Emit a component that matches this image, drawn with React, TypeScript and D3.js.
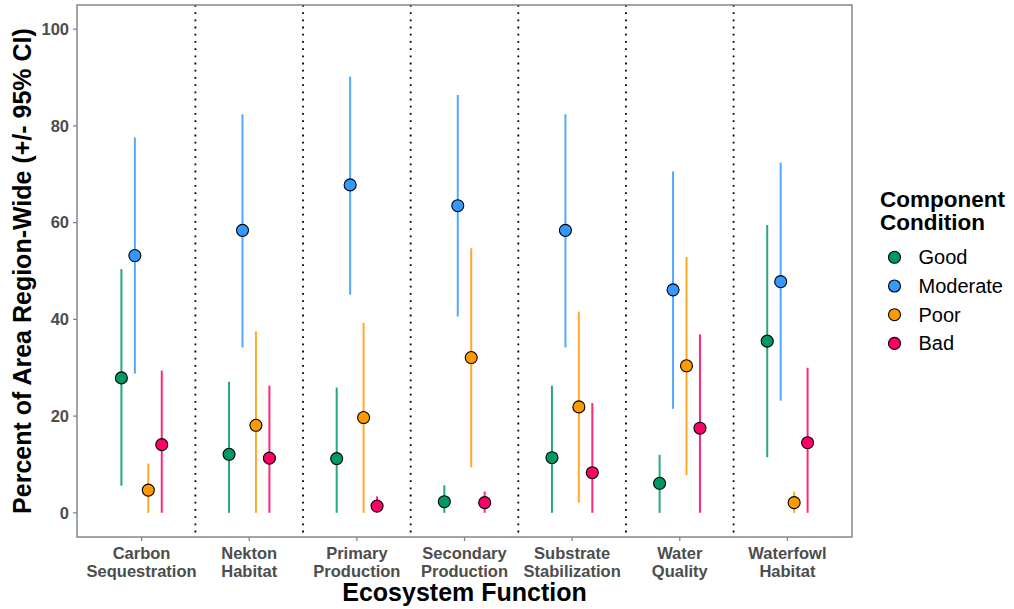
import React from "react";
import * as d3 from "d3";

// ecosystem functions (x axis), two lines each
const functions = [
  "Carbon Sequestration",
  "Nekton Habitat",
  "Primary Production",
  "Secondary Production",
  "Substrate Stabilization",
  "Water Quality",
  "Waterfowl Habitat",
];
const functionLines = [
  ["Carbon", "Sequestration"],
  ["Nekton", "Habitat"],
  ["Primary", "Production"],
  ["Secondary", "Production"],
  ["Substrate", "Stabilization"],
  ["Water", "Quality"],
  ["Waterfowl", "Habitat"],
];
const conditions = ["Good", "Moderate", "Poor", "Bad"];
const conditionColors = ["#009966", "#3399ff", "#ff9900", "#ff0066"];

// estimate, lower and upper CI per condition, in the order of functions
const goodEst = [27.9, 12.1, 11.2, 2.3, 11.4, 6.1, 35.5];
const goodLo = [5.6, 0, 0, 0, 0, 0, 11.5];
const goodHi = [50.4, 27.1, 25.9, 5.7, 26.3, 12.0, 59.5];

const moderateEst = [53.2, 58.4, 67.8, 63.5, 58.4, 46.1, 47.8];
const moderateLo = [28.8, 34.2, 45.1, 40.6, 34.2, 21.5, 23.2];
const moderateHi = [77.6, 82.4, 90.2, 86.4, 82.4, 70.6, 72.4];

const poorEst = [4.7, 18.1, 19.7, 32.1, 21.9, 30.4, 2.1];
const poorLo = [0, 0, 0, 9.4, 2.1, 7.8, 0];
const poorHi = [10.2, 37.5, 39.3, 54.7, 41.6, 52.9, 4.4];

const badEst = [14.1, 11.3, 1.4, 2.1, 8.3, 17.5, 14.5];
const badLo = [0, 0, 0, 0, 0, 0, 0];
const badHi = [29.4, 26.3, 3.4, 4.4, 22.7, 36.9, 30.0];

const yTicks = [0, 20, 40, 60, 80, 100];

const series = [
  { est: goodEst, lo: goodLo, hi: goodHi },
  { est: moderateEst, lo: moderateLo, hi: moderateHi },
  { est: poorEst, lo: poorLo, hi: poorHi },
  { est: badEst, lo: badLo, hi: badHi },
];

const width = 1014;
const height = 609;
const margin = { left: 77, right: 162, top: 5, bottom: 72 };
const font = "Liberation Sans, Arial, sans-serif";

const App = () => {
  const x0 = margin.left;
  const x1 = width - margin.right;
  const y0 = height - margin.bottom;
  const y1 = margin.top;

  // ggplot style discrete axis: 0.6 expansion on each side
  const x = d3
    .scaleLinear()
    .domain([0.4, functions.length + 0.6])
    .range([x0, x1]);
  const y = d3.scaleLinear().domain([-5, 105]).range([y0, y1]);
  const dodge = d3
    .scaleBand()
    .domain(conditions)
    .range([-0.25, 0.25])
    .paddingInner(0)
    .paddingOuter(0);
  const dx = (c) => dodge(c) + dodge.bandwidth() / 2;

  const tickColor = "#4d4d4d";

  return (
    <svg
      width={width}
      height={height}
      style={{ position: "absolute", left: 0, top: 0, background: "#fff" }}
    >
      {/* separators between functions */}
      {d3.range(1, functions.length).map(i => (
        <line
          key={"sep" + i}
          x1={x(i + 0.5)}
          x2={x(i + 0.5)}
          y1={y1}
          y2={y0}
          stroke="#000"
          strokeWidth={1.8}
          strokeDasharray="1.8,5.4"
        />
      ))}

      {/* error bars and points */}
      {series.map((s, si) =>
        functions.map((f, fi) => {
          const cx = x(fi + 1 + dx(conditions[si]));
          return (
            <g key={conditions[si] + f}>
              <line
                x1={cx}
                x2={cx}
                y1={y(s.lo[fi])}
                y2={y(s.hi[fi])}
                stroke={conditionColors[si]}
                strokeOpacity={0.85}
                strokeWidth={2}
              />
              <circle
                cx={cx}
                cy={y(s.est[fi])}
                r={6}
                fill={conditionColors[si]}
                stroke="#000"
                strokeWidth={1.1}
              />
            </g>
          );
        })
      )}

      {/* panel border */}
      <rect
        x={x0}
        y={y1}
        width={x1 - x0}
        height={y0 - y1}
        fill="none"
        stroke="#7f7f7f"
        strokeWidth={1.4}
      />

      {/* y axis */}
      {yTicks.map(t => (
        <g key={"y" + t}>
          <line x1={x0 - 4} x2={x0} y1={y(t)} y2={y(t)} stroke="#7f7f7f" strokeWidth={1.2} />
          <text
            x={x0 - 8}
            y={y(t)}
            dy="0.35em"
            textAnchor="end"
            fontFamily={font}
            fontWeight="bold"
            fontSize={16.5}
            fill={tickColor}
          >
            {t}
          </text>
        </g>
      ))}

      {/* x axis */}
      {functions.map((f, i) => (
        <g key={"x" + f}>
          <line x1={x(i + 1)} x2={x(i + 1)} y1={y0} y2={y0 + 4} stroke="#7f7f7f" strokeWidth={1.2} />
          {functionLines[i].map((ln, li) => (
            <text
              key={ln + li}
              x={x(i + 1)}
              y={559 + li * 18}
              textAnchor="middle"
              fontFamily={font}
              fontWeight="bold"
              fontSize={16.5}
              fill={tickColor}
            >
              {ln}
            </text>
          ))}
        </g>
      ))}

      {/* axis titles */}
      <text
        x={(x0 + x1) / 2}
        y={601}
        textAnchor="middle"
        fontFamily={font}
        fontWeight="bold"
        fontSize={25}
        fill="#000"
      >
        Ecosystem Function
      </text>
      <text
        transform={`translate(31,${(y0 + y1) / 2}) rotate(-90)`}
        textAnchor="middle"
        fontFamily={font}
        fontWeight="bold"
        fontSize={25}
        fill="#000"
      >
        Percent of Area Region-Wide (+/- 95% CI)
      </text>

      {/* legend */}
      <g fontFamily={font}>
        <text x={880} y={207} fontWeight="bold" fontSize={22.5} fill="#000">
          Component
        </text>
        <text x={880} y={230} fontWeight="bold" fontSize={22.5} fill="#000">
          Condition
        </text>
        {conditions.map((c, i) => (
          <g key={"leg" + c} transform={`translate(894.5,${257.3 + i * 28.7})`}>
            <circle r={6} fill={conditionColors[i]} stroke="#000" strokeWidth={1.1} />
            <text x={24} dy="0.35em" fontSize={20} fill="#000">
              {c}
            </text>
          </g>
        ))}
      </g>
    </svg>
  );
};

export default App;
